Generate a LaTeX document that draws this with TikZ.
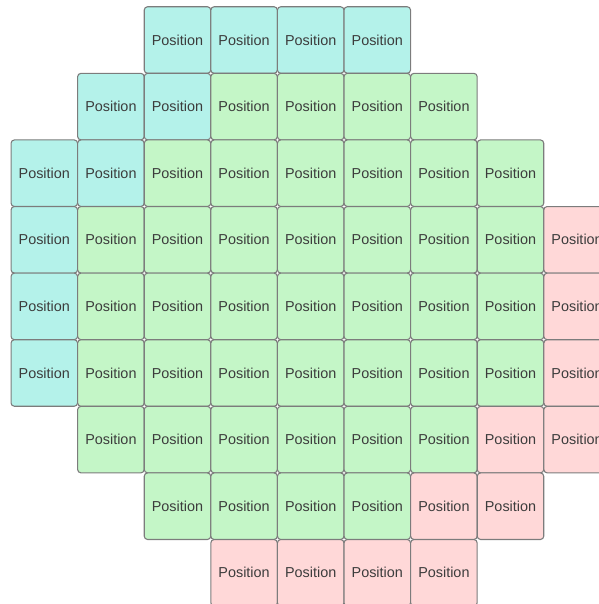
\documentclass[tikz,border=0pt]{standalone}
\usepackage{fontspec}
\setmainfont{Liberation Sans}
\usepackage{xcolor}
\usepackage{tikz}
\usetikzlibrary{positioning}

\definecolor{cyfill}{HTML}{B4F2EA}
\definecolor{grfill}{HTML}{C4F6C7}
\definecolor{pkfill}{HTML}{FFD8D8}
\definecolor{celledge}{HTML}{7C7C7C}
\definecolor{celltext}{HTML}{3C3C3C}

\begin{document}
\begin{tikzpicture}[x=0.75pt,y=-0.75pt,
    posbox/.style={draw=celledge, line width=0.8pt, rounded corners=2.5pt,
      minimum width=49.9pt, minimum height=49.9pt, inner sep=0pt,
      text=celltext, font=\fontsize{10.8}{13}\selectfont},
    cybox/.style={posbox, fill=cyfill},
    grbox/.style={posbox, fill=grfill},
    pkbox/.style={posbox, fill=pkfill}]
    \useasboundingbox (0,0) rectangle (599,604);
    \clip (0,0) rectangle (599,604);
    % row 0
    \foreach \c/\k in {2/cy,3/cy,4/cy,5/cy}
      \node[\k box] (p0\c) at ({44.3+66.6*\c},40) {Position};
    % row 1
    \foreach \c/\k in {1/cy,2/cy,3/gr,4/gr,5/gr,6/gr}
      \node[\k box] (p1\c) at ({44.3+66.6*\c},106.6) {Position};
    % row 2
    \foreach \c/\k in {0/cy,1/cy,2/gr,3/gr,4/gr,5/gr,6/gr,7/gr}
      \node[\k box] (p2\c) at ({44.3+66.6*\c},173.2) {Position};
    % rows 3 to 5
    \foreach \r in {3,4,5}
      \foreach \c/\k in {0/cy,1/gr,2/gr,3/gr,4/gr,5/gr,6/gr,7/gr,8/pk}
        \node[\k box] (p\r\c) at ({44.3+66.6*\c},{40+66.6*\r}) {Position};
    % row 6
    \foreach \c/\k in {1/gr,2/gr,3/gr,4/gr,5/gr,6/gr,7/pk,8/pk}
      \node[\k box] (p6\c) at ({44.3+66.6*\c},439.6) {Position};
    % row 7
    \foreach \c/\k in {2/gr,3/gr,4/gr,5/gr,6/pk,7/pk}
      \node[\k box] (p7\c) at ({44.3+66.6*\c},506.2) {Position};
    % row 8
    \foreach \c/\k in {3/pk,4/pk,5/pk,6/pk}
      \node[\k box] (p8\c) at ({44.3+66.6*\c},572.8) {Position};
\end{tikzpicture}
\end{document}
